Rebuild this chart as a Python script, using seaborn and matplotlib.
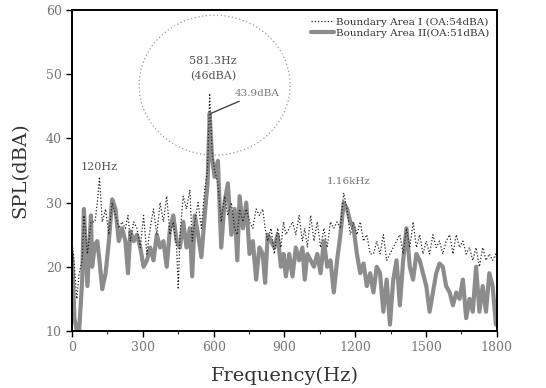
import numpy as np
import pandas as pd
import matplotlib
matplotlib.use("Agg")
import matplotlib.pyplot as plt
import seaborn as sns
from matplotlib.patches import Ellipse

# ---- data ----
freq_II = [0, 10, 20, 30, 43, 50, 65, 80, 85, 97, 107, 116, 128, 142, 156, 170, 184, 198,
           212, 226, 237, 247, 261, 275, 289, 303, 317, 331, 345, 359, 373, 387, 401, 415,
           429, 443, 457, 471, 485, 499, 509, 520, 534, 548, 562, 574, 583, 593, 604, 618,
           632, 646, 660, 675, 689, 700, 710, 724, 738, 752, 766, 780, 794, 808, 818, 829,
           843, 857, 871, 885, 896, 906, 920, 934, 948, 962, 976, 986, 997, 1011, 1025,
           1039, 1053, 1067, 1081, 1095, 1109, 1123, 1137, 1151, 1165, 1179, 1193, 1207,
           1221, 1235, 1249, 1263, 1277, 1291, 1305, 1319, 1333, 1347, 1361, 1375, 1389,
           1403, 1417, 1431, 1445, 1459, 1473, 1487, 1501, 1515, 1529, 1543, 1557, 1571,
           1585, 1600, 1614, 1628, 1642, 1656, 1670, 1684, 1698, 1712, 1726, 1740, 1754,
           1768, 1782, 1796, 1800]
spl_II = [22, 12, 10, 10, 18, 29, 17, 28, 20, 23.5, 24, 21, 16.5, 19, 24, 30.5, 29, 24,
          26, 24, 19, 25.5, 24, 25, 23, 20, 21, 23, 21, 25, 23, 24, 20, 26,
          28, 24, 23, 27, 23, 26, 18.5, 28, 25, 21.5, 28, 33, 43.9, 37, 34, 36.5,
          23, 30, 33, 25, 29, 21, 31, 26, 30, 22, 24, 18, 23, 22, 17.5, 25,
          24, 23, 25, 20, 22, 18.5, 22, 18.5, 23, 21, 23, 18, 22, 21, 20,
          22, 19, 24, 20, 21, 16, 21, 25, 30, 29, 27, 26, 22,
          19, 20.5, 17, 19, 16, 20, 19, 13, 18, 11, 18, 21, 14,
          21, 26, 20, 18, 22, 21, 19, 17, 13, 16, 19, 20.5, 20,
          17, 16, 14, 16, 15, 18, 12, 15, 13, 20, 13, 17, 13,
          19, 17, 11, 12]

freq_I = [0, 10, 20, 30, 43, 50, 65, 80, 97, 107, 116, 128, 142, 156, 170, 184, 198, 212,
          226, 237, 247, 261, 275, 289, 303, 317, 331, 345, 359, 373, 387, 401, 415, 429,
          443, 450, 457, 471, 485, 499, 509, 520, 534, 548, 562, 574, 583, 593, 604, 618,
          632, 646, 660, 675, 689, 700, 710, 724, 738, 752, 766, 780, 794, 808, 818, 829,
          843, 857, 871, 885, 896, 906, 920, 934, 948, 962, 976, 986, 997, 1011, 1025,
          1039, 1053, 1067, 1081, 1095, 1109, 1123, 1137, 1151, 1165, 1179, 1193, 1207,
          1221, 1235, 1249, 1263, 1277, 1291, 1305, 1319, 1333, 1347, 1361, 1375, 1389,
          1403, 1417, 1431, 1445, 1459, 1473, 1487, 1501, 1515, 1529, 1543, 1557, 1571,
          1585, 1600, 1614, 1628, 1642, 1656, 1670, 1684, 1698, 1712, 1726, 1740, 1754,
          1768, 1782, 1796, 1800]
spl_I = [24, 20, 15, 19, 21, 28, 22, 27, 27, 30, 34, 27, 29, 25, 30, 28, 26, 27,
         26, 28, 24, 27, 26, 23, 28, 22, 26, 29, 25, 30, 27, 31, 25, 27,
         23, 16.5, 25, 31, 29, 32, 24, 27, 30, 26, 32, 35, 47, 38, 35, 33,
         27, 31, 28, 30, 26, 25, 29, 27, 29, 27, 26, 29, 28, 29, 26, 24,
         26, 22, 26, 23, 27, 25, 26, 27, 25, 28, 24, 26, 23, 28, 24,
         27, 23, 26, 23, 27, 26, 27, 26, 31.5, 29, 25, 27, 25,
         27, 24, 25, 22, 22, 24, 22, 25, 21, 22, 23, 24, 25,
         22, 26, 23, 27, 23, 25, 22, 24, 22, 25, 23, 24, 22,
         24, 25, 22, 25, 23, 24, 22, 23, 21, 23, 20, 23, 21,
         22, 21, 22, 21]

label_I = "Boundary Area I (OA:54dBA)"
label_II = "Boundary Area II(OA:51dBA)"
x_ticks = [0, 300, 600, 900, 1200, 1500, 1800]
y_ticks = [10, 20, 30, 40, 50, 60]

df_I = pd.DataFrame({"f": freq_I, "spl": spl_I})
df_II = pd.DataFrame({"f": freq_II, "spl": spl_II})

sns.set_theme(style="ticks")
plt.rcParams["font.family"] = ["DejaVu Serif"]

fig = plt.figure(figsize=(5.46, 3.88), dpi=100)
ax = fig.add_axes([0.132, 0.147, 0.778, 0.827])

sns.lineplot(data=df_II, x="f", y="spl", ax=ax, color="#8c8c8c", linewidth=3.0,
             label=label_II, zorder=2)
sns.lineplot(data=df_I, x="f", y="spl", ax=ax, color="#222222", linewidth=0.9,
             linestyle=(0, (1, 1.6)), label=label_I, zorder=3)

ax.set_xlim(0, 1800)
ax.set_ylim(10, 60)
ax.set_xticks(x_ticks)
ax.set_xticks([150, 450, 750, 1050, 1350, 1650], minor=True)
ax.set_yticks(y_ticks)
ax.tick_params(axis="both", which="major", direction="out", length=4, width=1,
               labelsize=9, labelcolor="#777777", color="black")
ax.tick_params(axis="x", which="minor", direction="out", length=2.5, width=0.8)
for sp in ax.spines.values():
    sp.set_linewidth(1.4)
    sp.set_color("black")
ax.set_xlabel("Frequency(Hz)", fontsize=14, color="#333333", labelpad=9)
ax.set_ylabel("SPL(dBA)", fontsize=14, color="#333333", labelpad=12)

# annotations
ax.add_patch(Ellipse((604, 48.3), 640, 21.8, fill=False, linestyle=(0, (1, 2)),
                     edgecolor="#999999", linewidth=0.9, zorder=1))
ax.text(597, 52, "581.3Hz", ha="center", va="center", fontsize=8, color="#555555")
ax.text(597, 49.7, "(46dBA)", ha="center", va="center", fontsize=8, color="#555555")
ax.annotate("43.9dBA", xy=(588, 43.9), xytext=(690, 47.0), fontsize=7.5, color="#777777",
            ha="left", va="center",
            arrowprops=dict(arrowstyle="-", color="#444444", lw=1.0,
                            shrinkA=0, shrinkB=0))
ax.text(115, 35.6, "120Hz", ha="center", va="center", fontsize=8, color="#555555")
ax.text(1172, 33.3, "1.16kHz", ha="center", va="center", fontsize=7.5, color="#777777")

h, l = ax.get_legend_handles_labels()
order = [1, 0]
leg = ax.legend([h[i] for i in order], [l[i] for i in order], loc="upper right",
                frameon=False, fontsize=7.5, handlelength=2.2, borderaxespad=0.3,
                labelspacing=0.15, handletextpad=0.2)
for t in leg.get_texts():
    t.set_color("#333333")

fig.savefig("out.png", dpi=100)
